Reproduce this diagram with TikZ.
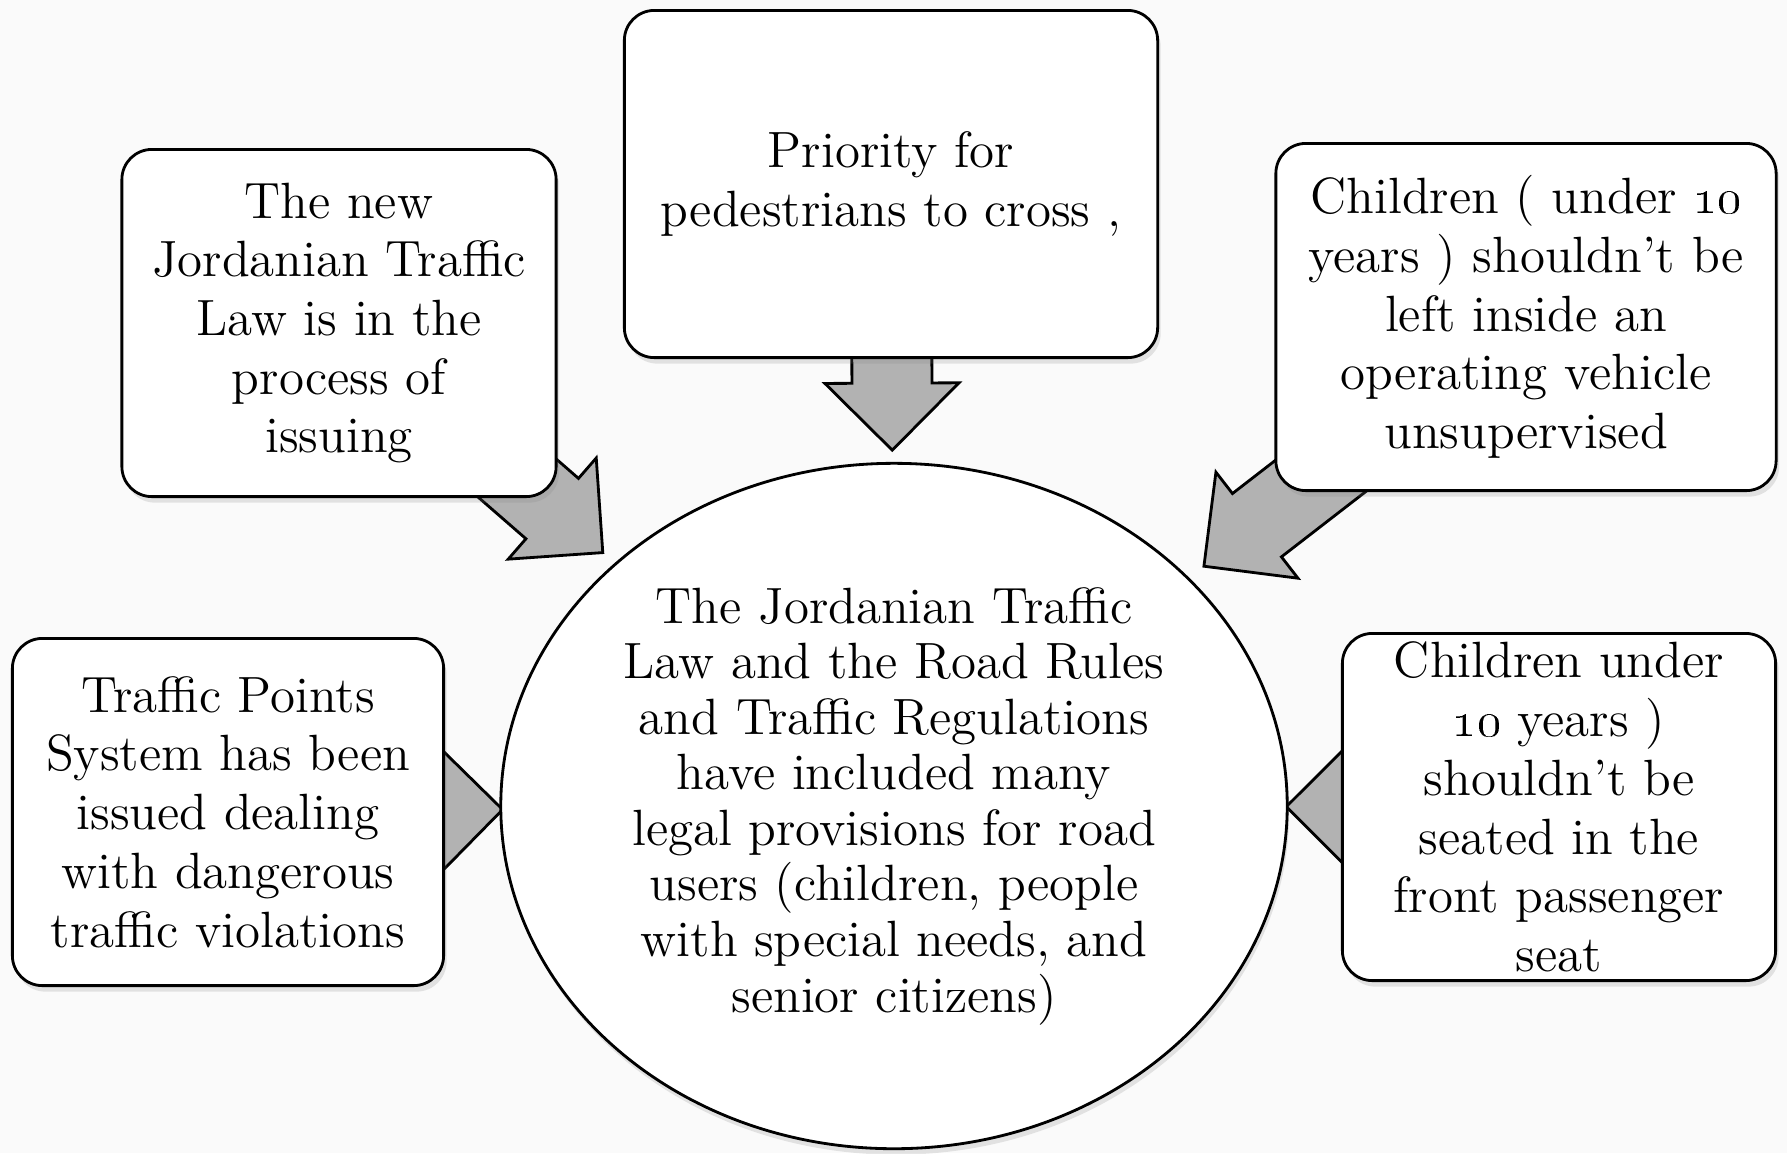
\documentclass[tikz,border=0pt]{standalone}
\usepackage{tikz}
\usetikzlibrary{positioning,calc,shapes.geometric,shadows,backgrounds}

% block arrow from a box (#1) to its tip (#2)
\newcommand\fatarrow[2]{%
  \filldraw[fatarrow] (#2)
    -- ($(#2)!0.67cm!(#1)!0.67cm!90:(#1)$)
    -- ($(#2)!0.67cm!(#1)!0.4cm!90:(#1)$)
    -- ($(#1)!0.4cm!-90:(#2)$)
    -- ($(#1)!0.4cm!90:(#2)$)
    -- ($(#2)!0.67cm!(#1)!0.4cm!-90:(#1)$)
    -- ($(#2)!0.67cm!(#1)!0.67cm!-90:(#1)$)
    -- cycle;}

\tikzset{
  box/.style={draw, rounded corners=0.3cm, fill=white, line width=0.8pt,
    minimum width=4.33cm, minimum height=3.47cm, align=center, inner sep=0pt,
    drop shadow={opacity=0.2, shadow xshift=0.03cm, shadow yshift=-0.06cm}},
  hub/.style={ellipse, draw, fill=white, line width=0.8pt, minimum width=7.86cm,
    minimum height=6.85cm, align=center, inner sep=0pt,
    font=\fontsize{14.5}{15.8}\selectfont,
    drop shadow={opacity=0.2, shadow xshift=0.02cm, shadow yshift=-0.06cm}},
  fatarrow/.style={fill=gray!60, draw=black, line width=0.8pt, line join=miter}
}

\begin{document}
\begin{tikzpicture}[x=0.01cm,y=-0.01cm,font=\fontsize{14.5}{16.7}\selectfont]
\useasboundingbox (0,0) rectangle (1787,1153);

\node[hub] (law) at (894,806) {The Jordanian Traffic\\Law and the Road Rules\\and Traffic Regulations\\have included many\\legal provisions for road\\users (children, people\\with special needs, and\\senior citizens)};

\node[box, minimum width=5.33cm] (top) at (891,184) {Priority for\\pedestrians to cross ,};
\node[box, minimum width=4.34cm] (lt) at (339,323) {The new\\Jordanian Traffic\\Law is in the\\process of\\issuing};
\node[box, minimum width=5cm] (rt) at (1526,317) {Children ( under \oldstylenums{10}\\years ) shouldn’t be\\left inside an\\operating vehicle\\unsupervised};
\node[box, minimum width=4.31cm] (lb) at (228,812) {Traffic Points\\System has been\\issued dealing\\with dangerous\\traffic violations};
\node[box] (rb) at (1559,807) {Children under\\\oldstylenums{10} years )\\shouldn’t be\\seated in the\\front passenger\\seat};

% arrow tips
\coordinate (t1) at ($(top)!2.66cm!(law)$);
\coordinate (t2) at ($(lt)!3.495cm!(law)$);
\coordinate (t3) at ($(rt)!4.07cm!(law)$);
\coordinate (t4) at ($(lb)!2.745cm!(law)$);
\coordinate (t5) at ($(rb)!2.725cm!(law)$);

\begin{scope}[on background layer]
  \fill[gray!4] (0,0) rectangle (1787,1153);
  \fatarrow{top}{t1}
  \fatarrow{lt}{t2}
  \fatarrow{rt}{t3}
  \fatarrow{lb}{t4}
  \fatarrow{rb}{t5}
\end{scope}
\end{tikzpicture}
\end{document}
